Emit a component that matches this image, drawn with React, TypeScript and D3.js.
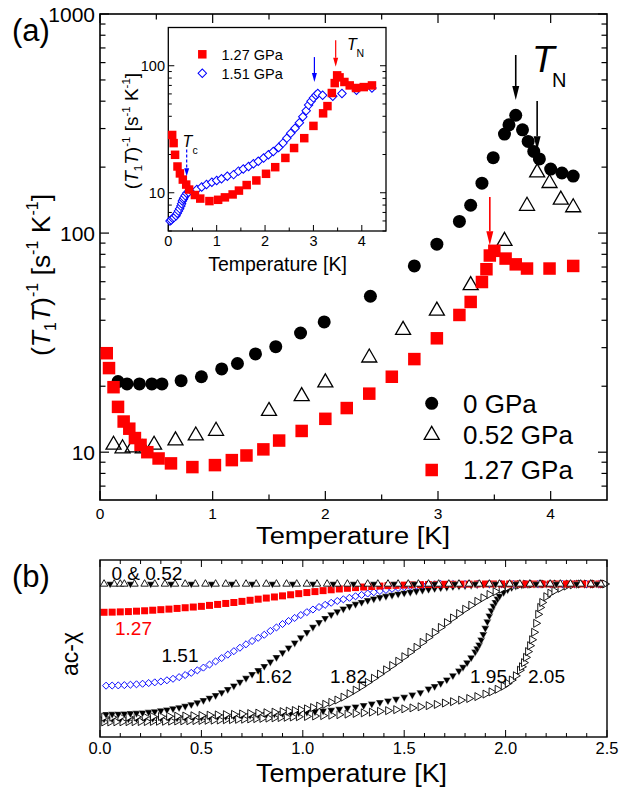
import React from 'react';
import * as d3 from 'd3';

const FONT = "'Liberation Sans', Arial, Helvetica, sans-serif";
const RED = '#ff0000';
const BLUE = '#0000ff';

// ---------- Panel (a): (T1T)^-1 vs T ----------
const p0T = [0.16, 0.24, 0.35, 0.46, 0.55, 0.72, 0.9, 1.08, 1.22, 1.38, 1.56, 1.78, 1.99, 2.4, 2.79, 2.99, 3.19, 3.29, 3.39, 3.49, 3.59, 3.63, 3.69, 3.75, 3.8, 3.85, 3.9, 4.0, 4.1, 4.2];
const p0R = [21.0, 20.5, 20.5, 20.5, 20.5, 21.2, 22.1, 24.0, 25.4, 28.1, 30.3, 35.0, 39.3, 51.5, 70.8, 89, 113, 134, 169, 221, 283, 312, 345, 296, 262, 236, 218, 196, 188, 182];

const p052T = [0.12, 0.2, 0.29, 0.38, 0.48, 0.67, 0.85, 1.03, 1.5, 1.79, 2.0, 2.39, 2.69, 2.99, 3.29, 3.59, 3.79, 3.88, 3.99, 4.09, 4.2];
const p052R = [10.8, 10.4, 10.5, 10.4, 10.8, 11.3, 11.9, 12.5, 15.4, 18.0, 20.8, 27.0, 36.1, 44.2, 57.8, 92, 133, 189, 169, 142, 131];

const p127T = [0.06, 0.08, 0.12, 0.16, 0.21, 0.26, 0.31, 0.36, 0.42, 0.52, 0.63, 0.82, 1.02, 1.17, 1.3, 1.45, 1.59, 1.79, 2.0, 2.19, 2.39, 2.59, 2.79, 2.99, 3.19, 3.29, 3.39, 3.43, 3.46, 3.5, 3.6, 3.69, 3.79, 3.99, 4.2];
const p127R = [28.3, 24.2, 19.8, 16.1, 13.8, 12.8, 11.6, 10.8, 10.0, 9.36, 8.89, 8.55, 8.73, 9.2, 9.66, 10.3, 11.3, 12.5, 14.2, 15.9, 18.5, 22.1, 26.6, 33.1, 42.3, 48.5, 59.8, 68.4, 79, 83, 76.5, 72, 68.9, 68.9, 70.8];

// Inset
const in127T = [0.08, 0.11, 0.14, 0.19, 0.24, 0.3, 0.37, 0.43, 0.55, 0.66, 0.85, 1.03, 1.17, 1.33, 1.46, 1.62, 1.82, 2.02, 2.21, 2.42, 2.6, 2.81, 3.0, 3.2, 3.29, 3.38, 3.44, 3.49, 3.54, 3.64, 3.75, 3.88, 4.04, 4.21];
const in127R = [28.5, 24.6, 19.9, 16.1, 14.2, 12.7, 11.6, 10.6, 9.6, 9.0, 8.6, 8.8, 9.2, 9.7, 10.4, 11.5, 12.5, 14.1, 15.9, 18.8, 22.5, 26.9, 33.6, 42.2, 48.1, 61, 73, 84, 81, 74.5, 70, 66.8, 67.9, 70];
const in151T = [0.035, 0.06, 0.09, 0.12, 0.16, 0.185, 0.21, 0.235, 0.26, 0.275, 0.29, 0.31, 0.325, 0.35, 0.38, 0.42, 0.48, 0.59, 0.69, 0.79, 0.9, 1.0, 1.1, 1.22, 1.35, 1.45, 1.55, 1.66, 1.76, 1.86, 1.97, 2.07, 2.17, 2.28, 2.37, 2.45, 2.53, 2.62, 2.71, 2.78, 2.85, 2.9, 2.95, 3.0, 3.05, 3.09, 3.19, 3.4, 3.59, 3.89, 4.21];
const in151R = [6.0, 6.1, 6.3, 6.4, 6.6, 6.9, 7.2, 7.5, 7.85, 8.2, 8.6, 8.9, 9.15, 9.5, 9.9, 10.1, 10.3, 10.6, 11.1, 11.6, 12.1, 12.5, 12.9, 13.5, 13.9, 14.8, 15.4, 16.1, 16.9, 17.7, 18.8, 19.9, 21.1, 22.7, 24.6, 26.9, 29.4, 32.2, 35.6, 39.7, 44.2, 49, 52.6, 55.8, 58.6, 60.4, 58.6, 57.5, 60.4, 64.1, 66.8];

// Arrows: [T, from value, to value]
const arrowsMainBlack = [[3.69, 650, 405], [3.88, 401, 239]];
const arrowMainRed = [3.46, 146, 88];
const arrowInsetBlue = [3.02, 117, 74.5];
const arrowInsetRed = [3.46, 159, 98];
const arrowInsetTc = [0.38, 21.9, 13.5];

const xTicksA = [0, 1, 2, 3, 4];
const yTickLabelsA = [10, 100, 1000];
const yTickLabelsI = [10, 100];

// ---------- Panel (b): ac-chi vs T ----------
const chi0T = [0.05, 0.15, 0.25, 0.35, 0.45, 0.55, 0.65, 0.75, 0.85, 0.95, 1.05, 1.15, 1.25, 1.35, 1.45, 1.55, 1.65, 1.75, 1.85, 1.95, 2.05, 2.15, 2.25, 2.35, 2.45];
const chi0V = [1, 1, 1, 1, 1, 1, 1, 1, 1, 1, 1, 1, 1, 1, 1, 1, 1, 1, 1, 1, 1, 1, 1, 1, 1];
const chi052T = [0.02, 0.07, 0.1, 0.12, 0.17, 0.22, 0.27, 0.32, 0.37, 0.42, 0.47, 0.52, 0.57, 0.62, 0.67, 0.72, 0.77, 0.82, 0.87, 0.92, 0.97, 1.02, 1.07, 1.12, 1.17, 1.22, 1.27, 1.32, 1.37, 1.42, 1.47, 1.52, 1.57, 1.62, 1.67, 1.72, 1.77, 1.82, 1.87, 1.92, 1.97, 2.02, 2.07, 2.12, 2.17, 2.22, 2.27, 2.32, 2.37, 2.42, 2.47];
const chi052V = [1, 1, 1, 1, 1, 1, 1, 1, 1, 1, 1, 1, 1, 1, 1, 1, 1, 1, 1, 1, 1, 1, 1, 1, 1, 1, 1, 1, 1, 1, 1, 1, 1, 1, 1, 1, 1, 1, 1, 1, 1, 1, 1, 1, 1, 1, 1, 1, 1, 1, 1];

const chi127T = [0.02, 0.06, 0.1, 0.14, 0.18, 0.22, 0.26, 0.3, 0.34, 0.38, 0.42, 0.46, 0.5, 0.54, 0.58, 0.62, 0.66, 0.7, 0.74, 0.78, 0.82, 0.86, 0.9, 0.94, 0.98, 1.02, 1.06, 1.1, 1.14, 1.18, 1.22, 1.26, 1.3, 1.34, 1.38, 1.42, 1.46, 1.5, 1.54, 1.58, 1.62, 1.66, 1.7, 1.74, 1.78, 1.82, 1.86, 1.9, 1.94, 1.98, 2.02, 2.06, 2.1, 2.14, 2.18, 2.22, 2.26, 2.3, 2.34, 2.38, 2.42, 2.46];
const chi127V = [0.795, 0.796, 0.798, 0.8, 0.803, 0.806, 0.81, 0.814, 0.818, 0.823, 0.828, 0.833, 0.838, 0.845, 0.852, 0.859, 0.866, 0.874, 0.882, 0.89, 0.898, 0.906, 0.914, 0.922, 0.93, 0.938, 0.945, 0.952, 0.958, 0.964, 0.969, 0.974, 0.978, 0.982, 0.985, 0.988, 0.99, 0.992, 0.994, 0.995, 0.996, 0.997, 0.998, 0.998, 0.999, 0.999, 1, 1, 1, 1, 1, 1, 1, 1, 1, 1, 1, 1, 1, 1, 1, 1];

const chi151T = [0.03, 0.06, 0.09, 0.12, 0.15, 0.18, 0.21, 0.24, 0.27, 0.3, 0.33, 0.36, 0.39, 0.42, 0.45, 0.48, 0.51, 0.54, 0.57, 0.6, 0.63, 0.66, 0.69, 0.72, 0.75, 0.78, 0.81, 0.84, 0.87, 0.9, 0.93, 0.96, 0.99, 1.02, 1.05, 1.08, 1.11, 1.14, 1.17, 1.2, 1.23, 1.26, 1.29, 1.32, 1.35, 1.38, 1.41, 1.44, 1.47, 1.5, 1.53, 1.56, 1.59, 1.62, 1.65, 1.68, 1.74, 1.8, 1.86, 1.92, 1.98, 2.04, 2.1, 2.16, 2.22, 2.28, 2.34, 2.4, 2.46];
const chi151V = [0.263, 0.264, 0.265, 0.267, 0.27, 0.273, 0.277, 0.282, 0.287, 0.293, 0.302, 0.313, 0.325, 0.34, 0.356, 0.374, 0.394, 0.416, 0.439, 0.463, 0.488, 0.513, 0.538, 0.563, 0.587, 0.61, 0.632, 0.66, 0.685, 0.71, 0.732, 0.754, 0.775, 0.796, 0.815, 0.833, 0.849, 0.864, 0.877, 0.889, 0.9, 0.911, 0.921, 0.931, 0.94, 0.949, 0.957, 0.965, 0.971, 0.977, 0.983, 0.988, 0.992, 0.996, 0.998, 1, 1, 1, 1, 1, 1, 1, 1, 1, 1, 1, 1, 1, 1];

const chi162T = [0.03, 0.06, 0.09, 0.12, 0.15, 0.18, 0.21, 0.24, 0.27, 0.3, 0.33, 0.36, 0.39, 0.42, 0.45, 0.48, 0.51, 0.54, 0.57, 0.6, 0.63, 0.66, 0.69, 0.72, 0.75, 0.78, 0.81, 0.84, 0.87, 0.9, 0.93, 0.96, 0.99, 1.02, 1.05, 1.08, 1.11, 1.14, 1.17, 1.2, 1.23, 1.26, 1.29, 1.32, 1.35, 1.38, 1.41, 1.44, 1.47, 1.5, 1.53, 1.56, 1.59, 1.62, 1.65, 1.68, 1.71, 1.74, 1.77, 1.8, 1.83, 1.86, 1.89, 1.92, 1.98, 2.04, 2.1, 2.16, 2.22, 2.28, 2.34, 2.4, 2.46];
const chi162V = [0.056, 0.057, 0.058, 0.06, 0.062, 0.064, 0.067, 0.071, 0.076, 0.082, 0.089, 0.097, 0.105, 0.115, 0.127, 0.141, 0.157, 0.174, 0.193, 0.214, 0.237, 0.262, 0.29, 0.318, 0.346, 0.374, 0.404, 0.436, 0.469, 0.503, 0.538, 0.574, 0.612, 0.65, 0.688, 0.722, 0.752, 0.778, 0.8, 0.82, 0.838, 0.854, 0.868, 0.881, 0.893, 0.903, 0.912, 0.92, 0.928, 0.935, 0.942, 0.949, 0.956, 0.962, 0.968, 0.973, 0.978, 0.982, 0.986, 0.989, 0.992, 0.995, 0.997, 0.999, 1, 1, 1, 1, 1, 1, 1, 1, 1];

const chi182T = [0.02, 0.06, 0.1, 0.14, 0.18, 0.22, 0.26, 0.3, 0.34, 0.38, 0.42, 0.46, 0.5, 0.54, 0.58, 0.62, 0.66, 0.7, 0.74, 0.78, 0.82, 0.86, 0.9, 0.93, 0.96, 0.99, 1.02, 1.05, 1.08, 1.11, 1.14, 1.17, 1.2, 1.23, 1.26, 1.29, 1.32, 1.35, 1.38, 1.41, 1.44, 1.47, 1.5, 1.53, 1.56, 1.59, 1.62, 1.65, 1.68, 1.71, 1.74, 1.77, 1.8, 1.83, 1.86, 1.89, 1.92, 1.95, 1.98, 2.01, 2.04, 2.07, 2.1, 2.13, 2.19, 2.25, 2.31, 2.37, 2.43, 2.49];
const chi182V = [0.035, 0.035, 0.036, 0.036, 0.037, 0.038, 0.039, 0.04, 0.041, 0.042, 0.043, 0.045, 0.047, 0.049, 0.051, 0.053, 0.055, 0.058, 0.061, 0.064, 0.067, 0.071, 0.075, 0.079, 0.083, 0.088, 0.095, 0.104, 0.115, 0.128, 0.142, 0.159, 0.18, 0.205, 0.231, 0.258, 0.287, 0.317, 0.347, 0.378, 0.409, 0.44, 0.473, 0.507, 0.541, 0.577, 0.613, 0.649, 0.685, 0.72, 0.754, 0.786, 0.817, 0.846, 0.874, 0.9, 0.924, 0.945, 0.963, 0.977, 0.988, 0.995, 0.999, 1, 1, 1, 1, 1, 1, 1];

const chi195T = [0.02, 0.06, 0.1, 0.14, 0.18, 0.22, 0.26, 0.3, 0.34, 0.38, 0.42, 0.46, 0.5, 0.54, 0.58, 0.62, 0.66, 0.7, 0.74, 0.78, 0.82, 0.86, 0.9, 0.94, 0.98, 1.02, 1.06, 1.1, 1.14, 1.18, 1.22, 1.26, 1.3, 1.34, 1.38, 1.42, 1.46, 1.5, 1.54, 1.58, 1.62, 1.65, 1.68, 1.71, 1.74, 1.77, 1.79, 1.81, 1.83, 1.85, 1.86, 1.87, 1.88, 1.89, 1.9, 1.91, 1.92, 1.93, 1.94, 1.95, 1.96, 1.97, 1.99, 2.01, 2.03, 2.05, 2.08, 2.11, 2.14, 2.17, 2.2, 2.24, 2.28, 2.34, 2.4, 2.46];
const chi195V = [0.022, 0.022, 0.023, 0.023, 0.024, 0.025, 0.026, 0.027, 0.028, 0.029, 0.03, 0.032, 0.034, 0.036, 0.038, 0.04, 0.043, 0.046, 0.049, 0.052, 0.055, 0.059, 0.062, 0.065, 0.068, 0.071, 0.075, 0.08, 0.086, 0.093, 0.101, 0.11, 0.12, 0.131, 0.142, 0.154, 0.166, 0.18, 0.196, 0.214, 0.24, 0.258, 0.28, 0.306, 0.336, 0.37, 0.398, 0.43, 0.466, 0.508, 0.532, 0.56, 0.595, 0.635, 0.68, 0.727, 0.77, 0.808, 0.84, 0.868, 0.893, 0.913, 0.94, 0.96, 0.975, 0.986, 0.994, 0.998, 1, 1, 1, 1, 1, 1, 1, 1];

const chi205T = [0.02, 0.05, 0.08, 0.11, 0.14, 0.17, 0.2, 0.23, 0.26, 0.29, 0.32, 0.35, 0.38, 0.41, 0.44, 0.47, 0.5, 0.53, 0.56, 0.59, 0.62, 0.65, 0.68, 0.71, 0.74, 0.77, 0.8, 0.83, 0.86, 0.89, 0.92, 0.95, 0.98, 1.02, 1.06, 1.1, 1.14, 1.18, 1.22, 1.26, 1.3, 1.34, 1.38, 1.42, 1.46, 1.5, 1.54, 1.58, 1.62, 1.66, 1.7, 1.74, 1.78, 1.82, 1.86, 1.9, 1.93, 1.96, 1.99, 2.01, 2.03, 2.05, 2.07, 2.08, 2.09, 2.1, 2.11, 2.12, 2.13, 2.14, 2.15, 2.16, 2.17, 2.18, 2.2, 2.22, 2.24, 2.27, 2.3, 2.33, 2.36, 2.4, 2.44, 2.48];
const chi205V = [0, 0, 0.001, 0.001, 0.002, 0.002, 0.003, 0.003, 0.004, 0.005, 0.005, 0.006, 0.007, 0.008, 0.009, 0.01, 0.011, 0.012, 0.013, 0.014, 0.016, 0.017, 0.019, 0.02, 0.022, 0.024, 0.026, 0.028, 0.03, 0.032, 0.034, 0.036, 0.038, 0.04, 0.043, 0.046, 0.049, 0.053, 0.057, 0.062, 0.066, 0.071, 0.077, 0.082, 0.089, 0.095, 0.102, 0.11, 0.118, 0.127, 0.137, 0.147, 0.158, 0.17, 0.184, 0.202, 0.218, 0.237, 0.26, 0.28, 0.304, 0.335, 0.375, 0.4, 0.43, 0.468, 0.51, 0.553, 0.596, 0.65, 0.715, 0.78, 0.83, 0.866, 0.908, 0.933, 0.95, 0.969, 0.985, 0.994, 0.999, 1, 1, 1];

const xTicksB = [0, 0.5, 1, 1.5, 2, 2.5];

// ---------- Layout ----------
const A = { l: 100, r: 607, t: 14, b: 500 };
const I = { l: 168.3, r: 386, t: 27.5, b: 231 };
const B = { l: 100, r: 607, t: 560, b: 737 };

const xA = d3.scaleLinear().domain([0, 4.5]).range([A.l, A.r]);
const yA = d3.scaleLog().domain([6.05, 1000]).range([A.b, A.t]);
const xI = d3.scaleLinear().domain([0, 4.5]).range([I.l, I.r]);
const yI = d3.scaleLog().domain([5, 200]).range([I.b, I.t]);
const xB = d3.scaleLinear().domain([0, 2.5]).range([B.l, B.r]);
const yB = d3.scaleLinear().domain([-0.109, 1.174]).range([B.b, B.t]);

const sym = (type: any, size: number) => d3.symbol().type(type).size(size)() as string;

function logTicks(lo: number, hi: number) {
  const out: { v: number; major: boolean }[] = [];
  for (let n = Math.floor(Math.log10(lo)); n <= Math.ceil(Math.log10(hi)); n++) {
    for (let k = 1; k <= 9; k++) {
      const v = k * Math.pow(10, n);
      if (v >= lo * 0.999 && v <= hi * 1.001) out.push({ v, major: k === 1 });
    }
  }
  return out;
}

function Arrow({ x, y1, y2, color, w, hl, sw, dash }: any) {
  const dir = y2 > y1 ? 1 : -1;
  const base = y2 - dir * hl;
  return (
    <g>
      <line x1={x} y1={y1} x2={x} y2={base} stroke={color} strokeWidth={sw} strokeDasharray={dash} />
      <path d={`M${x - w / 2},${base}L${x + w / 2},${base}L${x},${y2}Z`} fill={color} />
    </g>
  );
}

function Markers({ xs, ys, xS, yS, d, rot = 0, fill, stroke, sw = 1 }: any) {
  return (
    <g>
      {xs.map((t: number, i: number) => (
        <path key={i} d={d} transform={`translate(${xS(t)},${yS(ys[i])}) rotate(${rot})`} fill={fill} stroke={stroke} strokeWidth={sw} />
      ))}
    </g>
  );
}

export default function App() {
  const ticksA = logTicks(6.05, 1000);
  const ticksI = logTicks(5, 200);
  const minorXA = [0.5, 1.5, 2.5, 3.5];
  const ticksB = d3.range(0, 25.5, 1).map((i) => i / 10);

  const circ = sym(d3.symbolCircle, Math.PI * 6.5 * 6.5);
  const sqA = sym(d3.symbolSquare, 12.5 * 12.5);
  const triA = sym(d3.symbolTriangle, (Math.sqrt(3) / 4) * 15 * 15);
  const sqI = sym(d3.symbolSquare, 8.5 * 8.5);
  const diaI = sym(d3.symbolSquare, 6 * 6);
  const sqB = sym(d3.symbolSquare, 7 * 7);
  const diaB = sym(d3.symbolSquare, 5 * 5);
  const triB = sym(d3.symbolTriangle, (Math.sqrt(3) / 4) * 8 * 8);
  const triBs = sym(d3.symbolTriangle, (Math.sqrt(3) / 4) * 7.5 * 7.5);

  return (
    <svg width={635} height={787} style={{ position: 'absolute', left: 0, top: 0, fontFamily: FONT }}>
      <rect x={0} y={0} width={635} height={787} fill="#fff" />

      {/* ===== Panel (a) ===== */}
      <g>
        {ticksA.map((t, i) => (
          <g key={i} stroke="#000" strokeWidth={1.2}>
            <line x1={A.l} x2={A.l + (t.major ? 9 : 5.5)} y1={yA(t.v)} y2={yA(t.v)} />
            <line x1={A.r} x2={A.r - (t.major ? 9 : 5.5)} y1={yA(t.v)} y2={yA(t.v)} />
          </g>
        ))}
        {xTicksA.map((t) => (
          <g key={t} stroke="#000" strokeWidth={1.2}>
            <line x1={xA(t)} x2={xA(t)} y1={A.b} y2={A.b - 9} />
            <line x1={xA(t)} x2={xA(t)} y1={A.t} y2={A.t + 9} />
          </g>
        ))}
        {minorXA.map((t) => (
          <g key={t} stroke="#000" strokeWidth={1.2}>
            <line x1={xA(t)} x2={xA(t)} y1={A.b} y2={A.b - 5.5} />
            <line x1={xA(t)} x2={xA(t)} y1={A.t} y2={A.t + 5.5} />
          </g>
        ))}
        <rect x={A.l} y={A.t} width={A.r - A.l} height={A.b - A.t} fill="none" stroke="#000" strokeWidth={1.6} />
        {yTickLabelsA.map((v) => (
          <text key={v} x={95} y={yA(v) + 7.5} fontSize={21} textAnchor="end">{v}</text>
        ))}
        {xTicksA.map((t) => (
          <text key={t} x={xA(t)} y={519} fontSize={15.5} textAnchor="middle">{t}</text>
        ))}
        <text x={256} y={544} fontSize={23.5} textLength={194} lengthAdjust="spacingAndGlyphs">Temperature [K]</text>
        <text transform="translate(50,275) rotate(-90)" fontSize={26.5} textAnchor="middle">
          (<tspan fontStyle="italic">T</tspan><tspan fontSize={16} dy={6}>1</tspan><tspan fontStyle="italic" dy={-6}>T</tspan>)<tspan fontSize={16} dy={-12}>-1</tspan><tspan dy={12}>{' [s'}</tspan><tspan fontSize={16} dy={-12}>-1</tspan><tspan dy={12}>{' K'}</tspan><tspan fontSize={16} dy={-12}>-1</tspan><tspan dy={12}>]</tspan>
        </text>
        <text x={12} y={41} fontSize={31}>(a)</text>

        <Markers xs={p052T} ys={p052R} xS={xA} yS={yA} d={triA} fill="none" stroke="#000" sw={1.3} />
        <Markers xs={p0T} ys={p0R} xS={xA} yS={yA} d={circ} fill="#000" stroke="none" />
        <Markers xs={p127T} ys={p127R} xS={xA} yS={yA} d={sqA} fill={RED} stroke="none" />

        {arrowsMainBlack.map((a, i) => (
          <Arrow key={i} x={xA(a[0])} y1={yA(a[1])} y2={yA(a[2])} color="#000" w={7} hl={14} sw={1.6} />
        ))}
        <Arrow x={xA(arrowMainRed[0])} y1={yA(arrowMainRed[1])} y2={yA(arrowMainRed[2])} color={RED} w={7} hl={14} sw={1.6} />
        <text x={532} y={72} fontSize={37} fontStyle="italic">T</text>
        <text x={552} y={87} fontSize={20}>N</text>

        {/* legend */}
        <path d={circ} transform={`translate(431.7,403.3)`} fill="#000" />
        <text x={463} y={412.5} fontSize={26}>0 GPa</text>
        <path d={triA} transform={`translate(431.7,435)`} fill="none" stroke="#000" strokeWidth={1.3} />
        <text x={463} y={443.5} fontSize={26}>0.52 GPa</text>
        <path d={sqA} transform={`translate(431.7,470)`} fill={RED} />
        <text x={463} y={479} fontSize={26}>1.27 GPa</text>
      </g>

      {/* ===== Inset ===== */}
      <g>
        <rect x={I.l} y={I.t} width={I.r - I.l} height={I.b - I.t} fill="#fff" />
        {ticksI.map((t, i) => (
          <g key={i} stroke="#000" strokeWidth={1}>
            <line x1={I.l} x2={I.l + (t.major ? 6 : 3.5)} y1={yI(t.v)} y2={yI(t.v)} />
            <line x1={I.r} x2={I.r - (t.major ? 6 : 3.5)} y1={yI(t.v)} y2={yI(t.v)} />
          </g>
        ))}
        {xTicksA.map((t) => (
          <line key={t} x1={xI(t)} x2={xI(t)} y1={I.b} y2={I.b - 6} stroke="#000" strokeWidth={1} />
        ))}
        {minorXA.map((t) => (
          <line key={t} x1={xI(t)} x2={xI(t)} y1={I.b} y2={I.b - 3.5} stroke="#000" strokeWidth={1} />
        ))}
        <rect x={I.l} y={I.t} width={I.r - I.l} height={I.b - I.t} fill="none" stroke="#000" strokeWidth={1.3} />
        {yTickLabelsI.map((v) => (
          <text key={v} x={165} y={yI(v) + 5} fontSize={14.5} textAnchor="end">{v}</text>
        ))}
        {xTicksA.map((t) => (
          <text key={t} x={xI(t)} y={246} fontSize={14.5} textAnchor="middle">{t}</text>
        ))}
        <text x={277.5} y={271} fontSize={19.5} textAnchor="middle">Temperature [K]</text>
        <text transform="translate(138,131) rotate(-90)" fontSize={19} textAnchor="middle">
          (<tspan fontStyle="italic">T</tspan><tspan fontSize={11.5} dy={4}>1</tspan><tspan fontStyle="italic" dy={-4}>T</tspan>)<tspan fontSize={11.5} dy={-8}>-1</tspan><tspan dy={8}>{' [s'}</tspan><tspan fontSize={11.5} dy={-8}>-1</tspan><tspan dy={8}>{' K'}</tspan><tspan fontSize={11.5} dy={-8}>-1</tspan><tspan dy={8}>]</tspan>
        </text>

        <Markers xs={in151T} ys={in151R} xS={xI} yS={yI} d={diaI} rot={45} fill="#fff" stroke={BLUE} sw={1} />
        <Markers xs={in127T} ys={in127R} xS={xI} yS={yI} d={sqI} fill={RED} stroke="none" />

        <Arrow x={xI(arrowInsetBlue[0])} y1={yI(arrowInsetBlue[1])} y2={yI(arrowInsetBlue[2])} color={BLUE} w={5} hl={9} sw={1.2} />
        <Arrow x={xI(arrowInsetRed[0])} y1={yI(arrowInsetRed[1])} y2={yI(arrowInsetRed[2])} color={RED} w={5} hl={9} sw={1.2} />
        <Arrow x={xI(arrowInsetTc[0])} y1={yI(arrowInsetTc[1])} y2={yI(arrowInsetTc[2])} color={BLUE} w={5} hl={8} sw={1.2} dash="3,2" />
        <text x={347} y={50} fontSize={16} fontStyle="italic">T</text>
        <text x={356.5} y={57} fontSize={10.5}>N</text>
        <text x={182.5} y={147} fontSize={16} fontStyle="italic">T</text>
        <text x={192.5} y={154} fontSize={10.5}>c</text>

        <path d={sqI} transform="translate(202.3,54.3)" fill={RED} />
        <text x={221.5} y={59.5} fontSize={14.5}>1.27 GPa</text>
        <path d={diaI} transform="translate(202.3,73.3) rotate(45)" fill="#fff" stroke={BLUE} strokeWidth={1} />
        <text x={221.5} y={78.5} fontSize={14.5}>1.51 GPa</text>
      </g>

      {/* ===== Panel (b) ===== */}
      <g>
        {ticksB.map((t, i) => {
          const major = Math.abs(t * 2 - Math.round(t * 2)) < 1e-6;
          return (
            <g key={i} stroke="#000" strokeWidth={1}>
              <line x1={xB(t)} x2={xB(t)} y1={B.b} y2={B.b - (major ? 7 : 4)} />
              <line x1={xB(t)} x2={xB(t)} y1={B.t} y2={B.t + (major ? 7 : 4)} />
            </g>
          );
        })}
        <Markers xs={chi205T} ys={chi205V} xS={xB} yS={yB} d={triB} rot={90} fill="#fff" stroke="#000" sw={0.9} />
        <Markers xs={chi195T} ys={chi195V} xS={xB} yS={yB} d={triB} rot={180} fill="#000" stroke="#fff" sw={0.4} />
        <Markers xs={chi182T} ys={chi182V} xS={xB} yS={yB} d={triB} rot={90} fill="#fff" stroke="#000" sw={0.9} />
        <Markers xs={chi162T} ys={chi162V} xS={xB} yS={yB} d={triB} rot={180} fill="#000" stroke="#fff" sw={0.4} />
        <Markers xs={chi151T} ys={chi151V} xS={xB} yS={yB} d={diaB} rot={45} fill="#fff" stroke={BLUE} sw={0.9} />
        <Markers xs={chi127T} ys={chi127V} xS={xB} yS={yB} d={sqB} fill={RED} stroke="none" />
        <Markers xs={chi052T} ys={chi052V} xS={xB} yS={yB} d={triBs} fill="#fff" stroke="#000" sw={0.9} />
        <Markers xs={chi0T} ys={chi0V} xS={xB} yS={yB} d={triBs} rot={180} fill="#000" stroke="#fff" sw={0.3} />
        <rect x={B.l} y={B.t} width={B.r - B.l} height={B.b - B.t} fill="none" stroke="#000" strokeWidth={1.4} />
        {xTicksB.map((t) => (
          <text key={t} x={xB(t)} y={754} fontSize={16.5} textAnchor="middle">{t.toFixed(1)}</text>
        ))}
        <text x={256} y={782} fontSize={25.5} textLength={191} lengthAdjust="spacingAndGlyphs">Temperature [K]</text>
        <text transform="translate(78,654) rotate(-90)" fontSize={23} textAnchor="middle">ac-χ</text>
        <text x={12} y={587} fontSize={31}>(b)</text>

        <text x={111.5} y={580} fontSize={19}>0 &amp; 0.52</text>
        <text x={115} y={635} fontSize={19} fill={RED}>1.27</text>
        <text x={161.5} y={662} fontSize={19}>1.51</text>
        <text x={255} y={683} fontSize={19}>1.62</text>
        <text x={330} y={683} fontSize={19}>1.82</text>
        <text x={470} y={683} fontSize={19}>1.95</text>
        <text x={528} y={683} fontSize={19}>2.05</text>
      </g>
    </svg>
  );
}
